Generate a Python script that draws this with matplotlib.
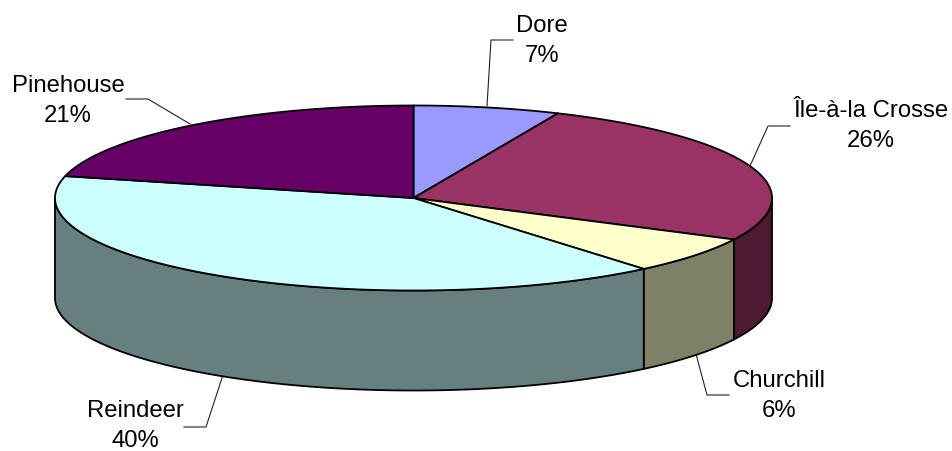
#!/usr/bin/env python3
# 3D style pie of share per basin, drawn as flat polygons on a pixel sized axes.

import numpy as np
import matplotlib
matplotlib.use("Agg")
import matplotlib.pyplot as plt

Names = ["Dore", "Île-à-la Crosse", "Churchill", "Reindeer", "Pinehouse"]
Shares = [6.6, 25.8, 6.5, 39.9, 21.2]
LabelShares = [7, 26, 6, 40, 21] # As printed on the chart.
TopColours = ["#9999FF", "#993366", "#FFFFCC", "#CCFFFF", "#660066"]
SideColours = ["#4D4D80", "#4D1A33", "#808066", "#668080", "#330033"]

# Layout of the pie in pixels.
CentreX, CentreY = 413.5, 199
RadiusX, RadiusY = 358.5, 92.5
Depth = 100

LabelCentres = [(542, 41), (871, 126), (779, 396), (135, 426), (68, 101)]
LeaderLines = [
	[(513, 41), (491, 41), (487, 107)],
	[(790, 127), (768, 127), (750, 167)],
	[(729, 396), (707, 396), (696, 355)],
	[(184, 428), (206, 428), (223, 376)],
	[(126, 100), (148, 100), (190, 125)],
]

def rim(T, Drop = 0):
	# Point on the pie rim, T in radians clockwise from the top.
	return CentreX + RadiusX * np.sin(T), CentreY - RadiusY * np.cos(T) + Drop

plt.rcParams['font.family'] = ['Liberation Sans', 'DejaVu Sans']

Fig = plt.figure(figsize = (9.52, 4.52), dpi = 100)
Ax = Fig.add_axes([0, 0, 1, 1])
Ax.set_xlim(0, 952)
Ax.set_ylim(452, 0)
Ax.axis("off")

Edges = np.cumsum([0] + Shares) / np.sum(Shares) * 2 * np.pi

# Side walls first, only the part of each slice facing the viewer.
for i in range(len(Shares)):
	Start = max(Edges[i], np.pi / 2)
	End = min(Edges[i + 1], 3 * np.pi / 2)
	if Start >= End:
		continue
	T = np.linspace(Start, End, 120)
	X, Y = rim(T)
	XLow, YLow = rim(T[::-1], Depth)
	Ax.fill(np.r_[X, XLow], np.r_[Y, YLow], facecolor = SideColours[i], edgecolor = "black", linewidth = 1.3, joinstyle = "round", zorder = 2)

# Top faces.
for i in range(len(Shares)):
	T = np.linspace(Edges[i], Edges[i + 1], 200)
	X, Y = rim(T)
	Ax.fill(np.r_[CentreX, X], np.r_[CentreY, Y], facecolor = TopColours[i], edgecolor = "black", linewidth = 1.3, joinstyle = "round", zorder = 3)

# Labels with leader lines.
for i in range(len(Names)):
	Line = np.array(LeaderLines[i])
	Ax.plot(Line[:, 0], Line[:, 1], color = "#222222", linewidth = 0.8, zorder = 1)
	Ax.text(LabelCentres[i][0], LabelCentres[i][1], "%s\n%d%%" % (Names[i], LabelShares[i]), ha = "center", va = "center", ma = "center", fontsize = 17.2, color = "black", linespacing = 1.5)

Fig.savefig("out.png", dpi = 100, facecolor = "white")
